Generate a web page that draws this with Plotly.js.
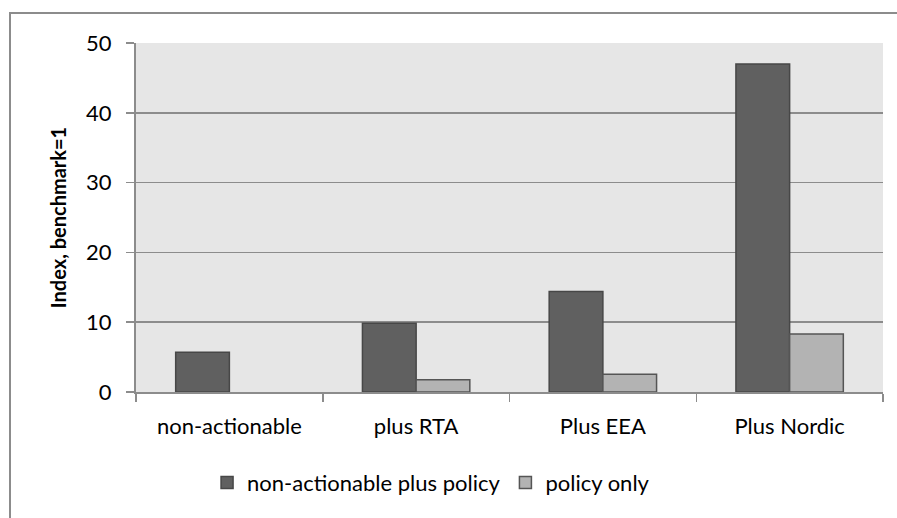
<!DOCTYPE html>
<html>
<head>
<meta charset="utf-8">
<script src="https://cdn.plot.ly/plotly-3.0.1.min.js"></script>
<style>
html,body{margin:0;padding:0;background:#fff;}
#wrap{position:relative;width:897px;height:518px;overflow:hidden;}
#chart{position:absolute;left:0;top:0;width:897px;height:518px;}
#frame{position:absolute;left:9px;top:12px;width:900px;height:520px;border-left:2px solid #8c8c8c;border-top:2px solid #8c8c8c;pointer-events:none;}
</style>
</head>
<body>
<div id="wrap"><div id="chart"></div><div id="frame"></div></div>
<script>
var categories = ["non-actionable", "plus RTA", "Plus EEA", "Plus Nordic"];
var seriesNames = ["non-actionable plus policy", "policy only"];
var nonActionablePlusPolicy = [5.7, 9.85, 14.4, 47.0];
var policyOnly = [0, 1.75, 2.55, 8.3];
var yTicks = [0, 10, 20, 30, 40, 50];

var font = "Lato, 'Open Sans', sans-serif";
var traces = [
  {type: "bar", name: seriesNames[0], x: categories, y: nonActionablePlusPolicy,
   marker: {color: "#606060", line: {color: "#474747", width: 1.5}}},
  {type: "bar", name: seriesNames[1], x: categories,
   y: policyOnly.map(function(v){ return v === 0 ? null : v; }),
   marker: {color: "#b3b3b3", line: {color: "#555555", width: 1.5}}}
];
var layout = {
  width: 897, height: 518,
  margin: {l: 136, r: 14, t: 43, b: 126},
  paper_bgcolor: "rgba(0,0,0,0)",
  plot_bgcolor: "#e6e6e6",
  barmode: "group", bargap: 0.425, bargroupgap: 0,
  font: {family: font, size: 22, color: "#000"},
  showlegend: true,
  legend: {orientation: "h", x: 0.395, xanchor: "center", y: -0.2, yanchor: "top",
           font: {family: font, size: 22, color: "#000"}, itemwidth: 30, traceorder: "normal"},
  xaxis: {type: "category", tickson: "boundaries", ticks: "outside", ticklen: 8, tickwidth: 1.5,
          tickcolor: "#8c8c8c", showline: true, linecolor: "#8c8c8c", linewidth: 2,
          showgrid: false, tickfont: {family: font, size: 22}, ticklabelstandoff: 14, fixedrange: true},
  yaxis: {range: [0, 50], tickvals: yTicks, ticks: "outside", ticklen: 8, tickwidth: 1.5,
          tickcolor: "#8c8c8c", showline: true, linecolor: "#8c8c8c", linewidth: 2,
          showgrid: true, gridcolor: "#8c8c8c", gridwidth: 1.5, zeroline: false,
          tickfont: {family: font, size: 22}, ticklabelstandoff: 10,
          title: {text: "<b>Index, benchmark=1</b>", font: {family: font, size: 20}, standoff: 14},
          fixedrange: true}
};
Plotly.newPlot("chart", traces, layout, {displayModeBar: false, staticPlot: true});
</script>
</body>
</html>
